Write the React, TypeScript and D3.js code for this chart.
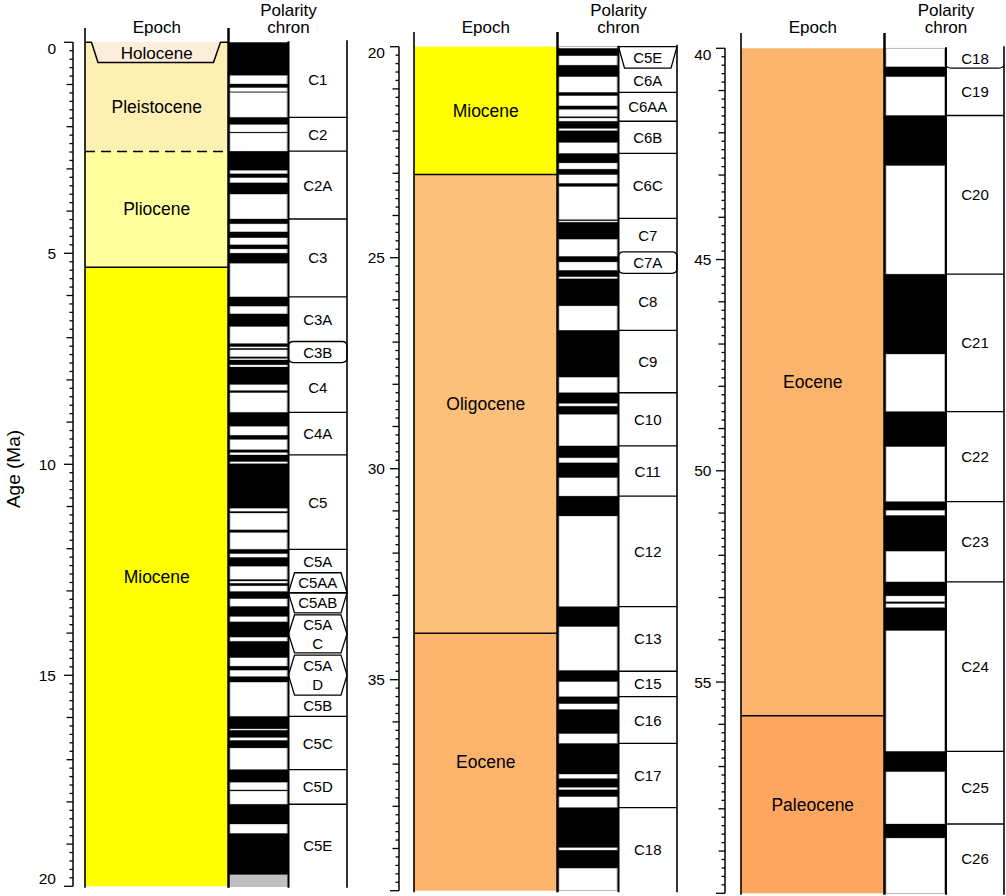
import React from 'react';
import * as d3 from 'd3';

// ---------------- DATA ----------------
const epochNames = ['Holocene', 'Pleistocene', 'Pliocene', 'Miocene', 'Oligocene', 'Eocene', 'Paleocene'];
const epochStarts = [0, 0.0117, 2.588, 5.332, 23.03, 33.9, 55.8];
const epochEnds = [0.0117, 2.588, 5.332, 23.03, 33.9, 55.8, 65.5];
const epochColors = ['#FDEEDC', '#FEF0B3', '#FFFF9E', '#FFFF00', '#FCC07B', '#FCB46D', '#FCA660'];
const holoceneBracketBottom = 0.48;

// normal polarity intervals (black), Ma
const normalStarts = [
  0, 0.988, 1.173, 1.778, 2.128, 2.581, 3.116, 3.33, 4.187, 4.493, 4.799, 4.997,
  6.033, 6.436, 7.14, 7.251, 7.454, 7.528, 7.695, 8.254, 8.769, 9.312, 9.656, 9.779,
  9.987, 11.118, 11.554, 12.014, 12.207, 12.73, 12.82, 13.015, 13.369, 13.734, 14.194,
  14.784, 15.032, 15.974, 16.303, 16.543, 17.235, 17.717, 18.056, 18.748,
  20.04, 20.439, 21.083, 21.403, 21.659, 21.767, 21.992, 22.53, 22.902, 23.24,
  24.1, 24.16, 24.97, 25.3, 25.5, 26.72, 28.2, 28.52, 29.46, 29.86, 30.65, 33.27,
  34.782, 35.404, 35.707, 36.512, 37.345, 37.61, 38.032, 39.041,
  40.439, 41.59, 45.346, 48.599, 50.73, 51.057, 52.63, 53.1, 53.24, 56.64, 58.36,
];
const normalEnds = [
  0.781, 1.072, 1.185, 1.945, 2.148, 3.032, 3.207, 3.596, 4.3, 4.631, 4.896, 5.235,
  6.252, 6.733, 7.212, 7.285, 7.489, 7.642, 8.108, 8.3, 9.098, 9.409, 9.717, 9.934,
  11.04, 11.154, 11.614, 12.116, 12.415, 12.765, 12.878, 13.183, 13.605, 14.095, 14.581,
  14.877, 15.16, 16.268, 16.472, 16.721, 17.533, 17.74, 18.524, 19.722,
  20.213, 20.709, 21.159, 21.483, 21.688, 21.936, 22.268, 22.754, 23.03, 23.31,
  24.125, 24.56, 25.1, 25.45, 26.14, 27.83, 28.45, 28.71, 29.74, 30.21, 31.12, 33.74,
  35.043, 35.567, 36.276, 37.235, 37.549, 37.771, 38.975, 39.464,
  40.671, 42.774, 47.235, 49.427, 50.932, 51.901, 52.96, 53.14, 53.78, 57.12, 58.69,
];
const unknownStarts = [19.722];
const unknownEnds = [20];

// chron labels
const chronPanel = [
  0, 0, 0, 0, 0, 0, 0, 0, 0, 0, 0, 0, 0, 0, 0, 0, 0, 0,
  1, 1, 1, 1, 1, 1, 1, 1, 1, 1, 1, 1, 1, 1, 1, 1, 1,
  2, 2, 2, 2, 2, 2, 2, 2, 2,
];
const chronNames = [
  'C1', 'C2', 'C2A', 'C3', 'C3A', 'C3B', 'C4', 'C4A', 'C5', 'C5A', 'C5AA', 'C5AB', 'C5A|C', 'C5A|D', 'C5B', 'C5C', 'C5D', 'C5E',
  'C5E', 'C6A', 'C6AA', 'C6B', 'C6C', 'C7', 'C7A', 'C8', 'C9', 'C10', 'C11', 'C12', 'C13', 'C15', 'C16', 'C17', 'C18',
  'C18', 'C19', 'C20', 'C21', 'C22', 'C23', 'C24', 'C25', 'C26',
];
const chronTops = [
  0, 1.778, 2.581, 4.187, 6.033, 7.09, 7.59, 8.769, 9.779, 12.014, 12.57, 13.05, 13.57, 14.52, 15.47, 15.974, 17.235, 18.056,
  20, 20.51, 21.083, 21.767, 22.53, 24.07, 24.86, 25.37, 26.72, 28.2, 29.46, 30.65, 33.27, 34.8, 35.4, 36.51, 38.03,
  40, 40.47, 41.59, 45.346, 48.599, 50.73, 52.63, 56.64, 58.36,
];
const chronBottoms = [
  1.778, 2.581, 4.187, 6.033, 7.09, 7.59, 8.769, 9.779, 12.014, 12.57, 13.04, 13.52, 14.47, 15.47, 15.974, 17.235, 18.056, 20,
  20.51, 21.083, 21.767, 22.53, 24.07, 24.86, 25.37, 26.72, 28.2, 29.46, 30.65, 33.27, 34.8, 35.4, 36.51, 38.03, 40,
  40.47, 41.59, 45.346, 48.599, 50.73, 52.63, 56.64, 58.36, 60,
];
const chronShapes = [
  'rect', 'rect', 'rect', 'rect', 'rect', 'round', 'rect', 'rect', 'rect', 'rect', 'trapTop', 'trapBottom', 'hex', 'hex', 'rect', 'rect', 'rect', 'rect',
  'trapBottom', 'rect', 'rect', 'rect', 'rect', 'rect', 'round', 'rect', 'rect', 'rect', 'rect', 'rect', 'rect', 'rect', 'rect', 'rect', 'rect',
  'brace', 'rect', 'rect', 'rect', 'rect', 'rect', 'rect', 'rect', 'rect',
];

const tickLabelsP1 = [0, 5, 10, 15, 20];
const tickLabelsP2 = [20, 25, 30, 35];
const tickLabelsP3 = [40, 45, 50, 55];

// ---------------- LAYOUT ----------------
const FONT = "'Liberation Sans', Arial, Helvetica, sans-serif";
const panels = [
  { d0: 0, d1: 20, y0: 42.3, y1: 886.3, axisX: 73, eL: 85, eR: 228.5, pR: 288.5, cR: 347, hTop: 28, lblDx: -17, ticks: tickLabelsP1 },
  { d0: 20, d1: 40, y0: 46.7, y1: 890.7, axisX: 399, eL: 414, eR: 557.5, pR: 618.5, cR: 677, hTop: 32, lblDx: -14, ticks: tickLabelsP2 },
  { d0: 40, d1: 60, y0: 48.3, y1: 893.3, axisX: 725, eL: 741, eR: 884.5, pR: 946, cR: 1004, hTop: 33, lblDx: -13.5, ticks: tickLabelsP3 },
];

function Panel({ p, idx }: { p: any; idx: number }) {
  const y = d3.scaleLinear().domain([p.d0, p.d1]).range([p.y0, p.y1]);
  const clip = (a: number) => Math.max(p.d0, Math.min(p.d1, a));
  const els: any[] = [];

  // --- axis ---
  const minor = d3.range(0, 101).map((i) => p.d0 + (i * (p.d1 - p.d0)) / 100);
  els.push(<line key="ax" x1={p.axisX} x2={p.axisX} y1={y(p.d0)} y2={y(p.d1)} stroke="#000" strokeWidth={1.5} />);
  minor.forEach((v, i) => {
    const len = i % 25 === 0 ? 9 : i % 5 === 0 ? 6.5 : 3.5;
    els.push(<line key={'t' + i} x1={p.axisX - len} x2={p.axisX} y1={y(v)} y2={y(v)} stroke="#000" strokeWidth={1.3} />);
  });
  p.ticks.forEach((v: number, i: number) => {
    let dy = 0;
    if (v === p.d0) dy = 6;
    if (v === p.d1) dy = -8;
    els.push(
      <text key={'tl' + i} x={p.axisX + p.lblDx} y={y(v) + dy} textAnchor="end" dominantBaseline="central" fontSize={15.5} fontFamily={FONT}>
        {v}
      </text>
    );
  });

  // --- epoch column ---
  epochNames.forEach((name, i) => {
    const s = clip(epochStarts[i]);
    const e = clip(epochEnds[i]);
    if (e <= s) return;
    if (name === 'Holocene') return;
    const top = name === 'Pleistocene' ? p.d0 : s;
    els.push(<rect key={'ep' + i} x={p.eL} y={y(top)} width={p.eR - p.eL} height={y(e) - y(top)} fill={epochColors[i]} />);
  });
  epochNames.forEach((name, i) => {
    const s = clip(epochStarts[i]);
    const e = clip(epochEnds[i]);
    if (e <= s) return;
    if (name === 'Holocene') {
      const ty = y(p.d0);
      const by = y(holoceneBracketBottom);
      els.push(
        <path
          key="holo"
          d={`M${p.eL},${ty} L${p.eL + 6.5},${ty} L${p.eL + 13},${by} L${p.eR - 15},${by} L${p.eR - 8},${ty} L${p.eR},${ty}`}
          fill={epochColors[i]}
          stroke="#000"
          strokeWidth={1.5}
        />
      );
      els.push(
        <text key="holot" x={(p.eL + p.eR) / 2} y={(ty + by) / 2 + 1} textAnchor="middle" dominantBaseline="central" fontSize={17} fontFamily={FONT}>
          {name}
        </text>
      );
      return;
    }
    const top = name === 'Pleistocene' ? holoceneBracketBottom : s;
    els.push(
      <text key={'et' + i} x={(p.eL + p.eR) / 2} y={(y(top) + y(e)) / 2} textAnchor="middle" dominantBaseline="central" fontSize={17.5} fontFamily={FONT}>
        {name}
      </text>
    );
    if (epochStarts[i] > p.d0 && epochStarts[i] < p.d1 && i > 1) {
      els.push(
        <line
          key={'eb' + i}
          x1={p.eL}
          x2={p.eR}
          y1={y(epochStarts[i])}
          y2={y(epochStarts[i])}
          stroke="#000"
          strokeWidth={1.5}
          strokeDasharray={name === 'Pliocene' ? '10,6' : undefined}
        />
      );
    }
  });

  // --- polarity column ---
  const px0 = p.eR;
  const px1 = p.pR;
  const normals = normalStarts
    .map((s, i) => [clip(s), clip(normalEnds[i])])
    .filter(([s, e]) => e > s);
  const reversed: number[][] = [];
  let cur = p.d0;
  normals.forEach(([s, e]) => {
    if (s > cur) reversed.push([cur, s]);
    cur = Math.max(cur, e);
  });
  if (cur < p.d1) reversed.push([cur, p.d1]);
  reversed.forEach(([s, e], i) => {
    els.push(
      <rect key={'rv' + i} x={px0 + 1.5} y={y(s)} width={px1 - px0 - 3} height={y(e) - y(s)} fill="#fff" stroke="#999" strokeWidth={0.7} />
    );
  });
  unknownStarts.forEach((s0, i) => {
    const s = clip(s0);
    const e = clip(unknownEnds[i]);
    if (e <= s) return;
    els.push(<rect key={'uk' + i} x={px0} y={y(s)} width={px1 - px0} height={y(e) - y(s)} fill="#C0C0C0" />);
  });
  normals.forEach(([s, e], i) => {
    els.push(<rect key={'nm' + i} x={px0} y={y(s)} width={px1 - px0} height={Math.max(0.5, y(e) - y(s))} fill="#000" />);
  });

  // --- chron label column ---
  const cx0 = p.pR;
  const cx1 = p.cR;
  const items = chronNames.map((n, i) => i).filter((i) => chronPanel[i] === idx);
  items.forEach((i, k) => {
    const ty = y(chronTops[i]);
    const by = y(chronBottoms[i]);
    const shape = chronShapes[i];
    const ins = 6;
    if (shape === 'trapTop') {
      els.push(<path key={'cs' + i} d={`M${cx0 + ins},${ty} L${cx1 - ins},${ty} L${cx1},${by} L${cx0},${by} Z`} fill="#fff" stroke="#000" strokeWidth={1.3} />);
    } else if (shape === 'trapBottom') {
      els.push(<path key={'cs' + i} d={`M${cx0},${ty} L${cx1},${ty} L${cx1 - ins},${by} L${cx0 + ins},${by} Z`} fill="#fff" stroke="#000" strokeWidth={1.3} />);
    } else if (shape === 'hex') {
      const m = (ty + by) / 2;
      els.push(
        <path
          key={'cs' + i}
          d={`M${cx0 + ins},${ty} L${cx1 - ins},${ty} L${cx1},${m} L${cx1 - ins},${by} L${cx0 + ins},${by} L${cx0},${m} Z`}
          fill="#fff"
          stroke="#000"
          strokeWidth={1.3}
        />
      );
    } else if (shape === 'round') {
      const r = 5;
      els.push(
        <path
          key={'cs' + i}
          d={`M${cx0 + r},${ty} L${cx1 - r},${ty} Q${cx1},${ty} ${cx1},${ty + r} L${cx1},${by - r} Q${cx1},${by} ${cx1 - r},${by} L${cx0 + r},${by} Q${cx0},${by} ${cx0},${by - r} L${cx0},${ty + r} Q${cx0},${ty} ${cx0 + r},${ty} Z`}
          fill="#fff"
          stroke="#000"
          strokeWidth={1.3}
        />
      );
    } else if (shape === 'brace') {
      els.push(
        <path
          key={'cs' + i}
          d={`M${cx0},${by - 3} Q${cx0 + 1},${by} ${cx0 + 6},${by} L${cx1 - 6},${by} Q${cx1 - 1},${by} ${cx1},${by - 3}`}
          fill="none"
          stroke="#000"
          strokeWidth={1.3}
        />
      );
    } else {
      const next = items[k + 1];
      if (next !== undefined && chronShapes[next] === 'rect') {
        els.push(<line key={'cl' + i} x1={cx0} x2={cx1} y1={by} y2={by} stroke="#000" strokeWidth={1.3} />);
      }
    }
    const lines = chronNames[i].split('|');
    const cyc = (ty + by) / 2;
    lines.forEach((ln, j) => {
      const off = (j - (lines.length - 1) / 2) * 19;
      els.push(
        <text key={'ct' + i + '_' + j} x={(cx0 + cx1) / 2} y={cyc + off} textAnchor="middle" dominantBaseline="central" fontSize={15} fontFamily={FONT}>
          {ln}
        </text>
      );
    });
  });

  // --- vertical borders ---
  const bot = p.y1 + 1.5;
  els.push(<line key="vL" x1={p.eL} x2={p.eL} y1={p.hTop} y2={bot} stroke="#000" strokeWidth={1.6} />);
  els.push(<line key="vE" x1={p.eR} x2={p.eR} y1={p.hTop} y2={bot} stroke="#000" strokeWidth={2.5} />);
  els.push(<line key="vP" x1={p.pR} x2={p.pR} y1={p.y0 - 1} y2={bot} stroke="#000" strokeWidth={2} />);
  els.push(<line key="vC" x1={p.cR} x2={p.cR} y1={p.y0 - 2} y2={bot} stroke="#000" strokeWidth={1.6} />);

  // --- headers ---
  els.push(
    <text key="hE" x={(p.eL + p.eR) / 2} y={33} textAnchor="middle" fontSize={17} fontFamily={FONT}>
      Epoch
    </text>
  );
  els.push(
    <text key="hP1" x={p.pR} y={16} textAnchor="middle" fontSize={17} fontFamily={FONT}>
      Polarity
    </text>
  );
  els.push(
    <text key="hP2" x={p.pR} y={33} textAnchor="middle" fontSize={17} fontFamily={FONT}>
      chron
    </text>
  );

  return <g>{els}</g>;
}

export default function App() {
  return (
    <svg width={1006} height={896} style={{ position: 'absolute', left: 0, top: 0, display: 'block', background: '#fff' }}>
      <rect x={0} y={0} width={1006} height={896} fill="#fff" />
      {panels.map((p, i) => (
        <Panel key={i} p={p} idx={i} />
      ))}
      <text x={13} y={469} transform="rotate(-90 13 469)" textAnchor="middle" dominantBaseline="central" fontSize={19} fontFamily={FONT}>
        Age (Ma)
      </text>
    </svg>
  );
}
